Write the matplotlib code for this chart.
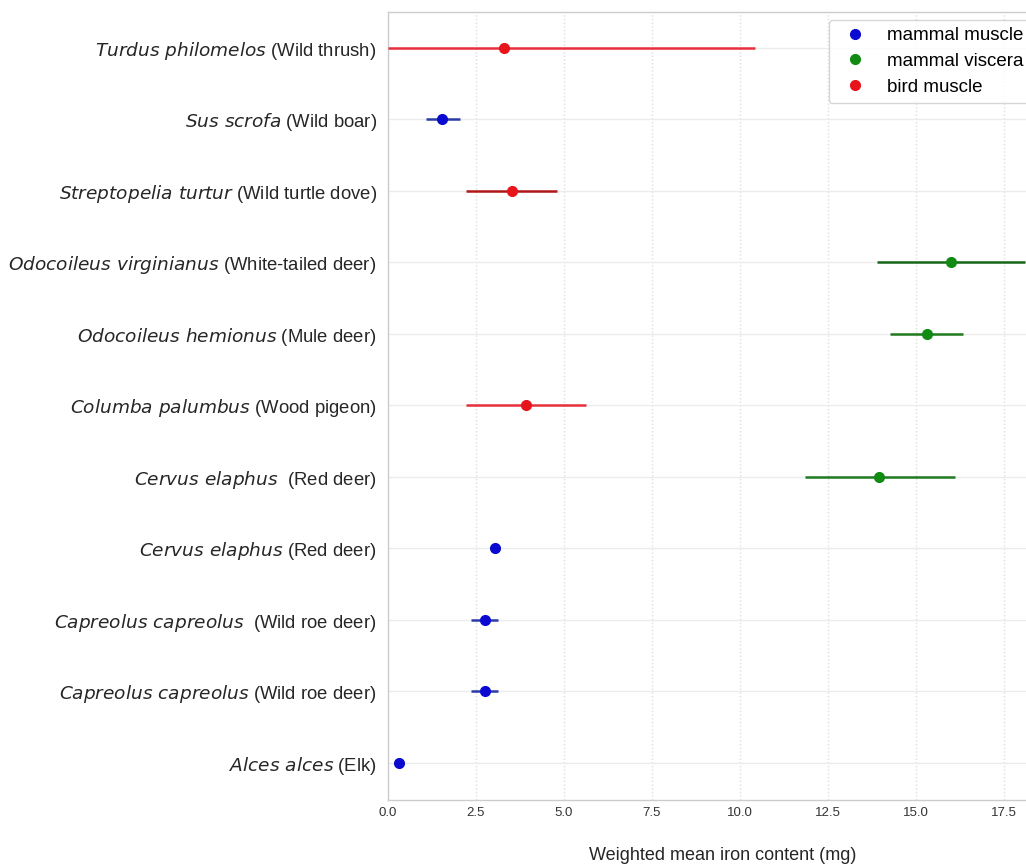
import matplotlib.pyplot as plt
from matplotlib.lines import Line2D

# species labels, bottom to top
labels = [
    r"$\it{Alces\ alces}$ (Elk)",
    r"$\it{Capreolus\ capreolus}$ (Wild roe deer)",
    r"$\it{Capreolus\ capreolus}$  (Wild roe deer)",
    r"$\it{Cervus\ elaphus}$ (Red deer)",
    r"$\it{Cervus\ elaphus}$  (Red deer)",
    r"$\it{Columba\ palumbus}$ (Wood pigeon)",
    r"$\it{Odocoileus\ hemionus}$ (Mule deer)",
    r"$\it{Odocoileus\ virginianus}$ (White-tailed deer)",
    r"$\it{Streptopelia\ turtur}$ (Wild turtle dove)",
    r"$\it{Sus\ scrofa}$ (Wild boar)",
    r"$\it{Turdus\ philomelos}$ (Wild thrush)",
]
mean = [0.31, 2.76, 2.76, 3.04, 13.95, 3.92, 15.31, 16.0, 3.52, 1.53, 3.30]
low = [0.31, 2.36, 2.36, 3.04, 11.85, 2.22, 14.26, 13.9, 2.22, 1.08, 0.0]
high = [0.31, 3.13, 3.13, 3.04, 16.11, 5.63, 16.34, 18.1, 4.80, 2.05, 10.43]
group = ["mammal muscle", "mammal muscle", "mammal muscle", "mammal muscle",
         "mammal viscera", "bird muscle", "mammal viscera", "mammal viscera",
         "bird muscle", "mammal muscle", "bird muscle"]

colors = {"mammal muscle": "#0a0ad0", "mammal viscera": "#138a13", "bird muscle": "#e8141c"}
line_colors = {"mammal muscle": "#2a3aa8", "mammal viscera": "#1f7a1f", "bird muscle": "#e8303a"}

plt.rcParams['font.family'] = ['Liberation Sans', 'DejaVu Sans']
plt.rcParams['mathtext.fontset'] = 'dejavusans'

fig = plt.figure(figsize=(10.26, 8.66), dpi=100)
ax = fig.add_axes([0.378, 0.0762, 0.652, 0.910])

for i in range(len(labels)):
    g = group[i]
    lc = line_colors[g]
    if i == 8:
        lc = "#b01818"
    if i == 7:
        lc = "#176617"
    ax.errorbar(mean[i], i, xerr=[[mean[i] - low[i]], [high[i] - mean[i]]],
                fmt='o', color=colors[g], ecolor=lc, elinewidth=1.8,
                markersize=7, capsize=0, zorder=3)

ax.set_yticks(range(len(labels)))
ax.set_yticklabels(labels, fontsize=13.3, color='#262626')
ax.set_ylim(-0.52, 10.5)
ax.set_xlim(0, 19)
ax.set_xticks([0, 2.5, 5, 7.5, 10, 12.5, 15, 17.5])
ax.set_xticklabels(["0.0", "2.5", "5.0", "7.5", "10.0", "12.5", "15.0", "17.5"],
                   fontsize=9.5, color='#333333')
ax.tick_params(axis='y', length=0, pad=8)
ax.tick_params(axis='x', length=0, pad=5)
ax.set_xlabel("Weighted mean iron content (mg)", fontsize=13, color='#262626', labelpad=20)

ax.grid(axis='x', color='#dddddd', linestyle=':', linewidth=1)
ax.grid(axis='y', color='#ececec', linestyle='-', linewidth=1)
ax.set_axisbelow(True)
for s in ax.spines.values():
    s.set_color('#cccccc')
    s.set_linewidth(1)

handles = [Line2D([], [], marker='o', linestyle='none', color=colors[k], markersize=7, label=k)
           for k in ["mammal muscle", "mammal viscera", "bird muscle"]]
ax.legend(handles=handles, loc='upper left', bbox_to_anchor=(0.659, 0.99), borderaxespad=0,
          fontsize=13.5, frameon=True, edgecolor='#cccccc', fancybox=True,
          handletextpad=0.7, labelspacing=0.45)

fig.savefig("out.png", dpi=100)
